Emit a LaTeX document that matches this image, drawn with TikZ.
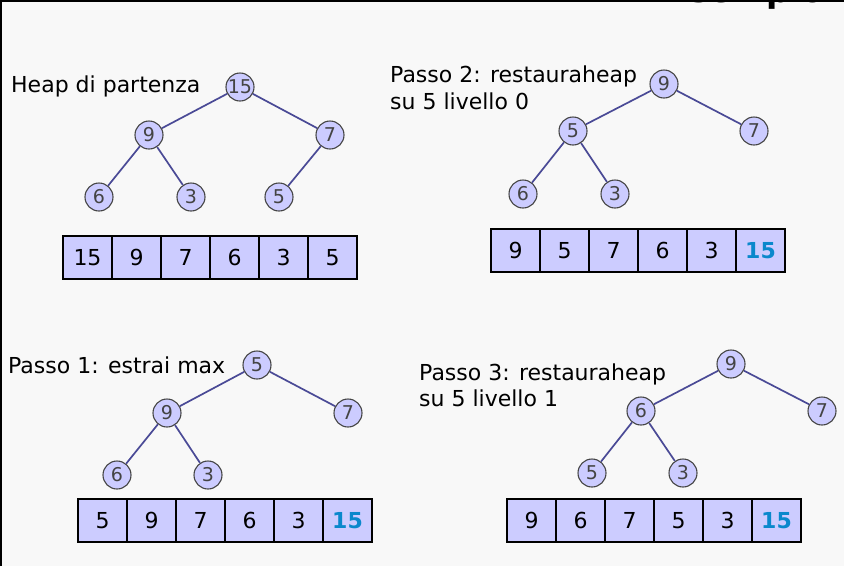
\documentclass[tikz,border=0pt]{standalone}
\usepackage{fontspec}
\setmainfont{DejaVu Sans}
\definecolor{bgcol}{HTML}{F8F8F8}
\definecolor{nodefill}{HTML}{CCCCFF}
\definecolor{nodeborder}{HTML}{454545}
\definecolor{nodetext}{HTML}{444444}
\definecolor{edgecol}{HTML}{4A4A96}
\definecolor{hlblue}{HTML}{0A88CC}
\newcommand\hlv[1]{\textcolor{hlblue}{\bfseries #1}}
\begin{document}
\begin{tikzpicture}[x=1pt,y=-1pt,
  hn/.style={circle, draw=nodeborder, fill=nodefill, line width=1.1pt, minimum size=28pt, inner sep=0pt, font=\fontsize{19}{19}\selectfont, text=nodetext},
  edge/.style={draw=edgecol, line width=1.7pt},
  cell/.style={draw=black, fill=nodefill, line width=1.4pt, minimum width=49pt, minimum height=43pt, inner sep=0pt, font=\fontsize{22}{22}\selectfont},
  lbl/.style={anchor=base west, inner sep=0pt, font=\fontsize{22}{22}\selectfont}]
\useasboundingbox (0,0) rectangle (844,566);
\fill[bgcol] (0,0) rectangle (844,566);
\draw[black, line width=1.5pt] (0.75,566) -- (0.75,0.75) -- (844,0.75);
\begin{scope}
\clip (0,0) rectangle (844,566);
\node[anchor=base west, inner sep=0pt, font=\bfseries\fontsize{33}{33}\selectfont] (title) at (667,2) {Esempio};
\end{scope}

% Tree 1
\node[lbl] (l1) at (11,92.7) {Heap di partenza};
\node[hn] (t1a) at (240,87) {15};
\node[hn] (t1b) at (149,135) {9};
\node[hn] (t1c) at (330,135) {7};
\node[hn] (t1d) at (99,197) {6};
\node[hn] (t1e) at (191,197) {3};
\node[hn] (t1f) at (279,197) {5};
\draw[edge] (t1a) -- (t1b); \draw[edge] (t1a) -- (t1c);
\draw[edge] (t1b) -- (t1d); \draw[edge] (t1b) -- (t1e);
\draw[edge] (t1c) -- (t1f);
\foreach \v [count=\i] in {15,9,7,6,3,5}
  \node[cell] (a1c\i) at ({63+(\i-0.5)*49},257.5) {\v};

% Tree 2
\node[lbl] (l2a) at (390,82) {Passo 2: restauraheap};
\node[lbl] (l2b) at (390,109) {su 5 livello 0};
\node[hn] (t2a) at (664,84) {9};
\node[hn] (t2b) at (573,131) {5};
\node[hn] (t2c) at (754,131) {7};
\node[hn] (t2d) at (523,194) {6};
\node[hn] (t2e) at (615,194) {3};
\draw[edge] (t2a) -- (t2b); \draw[edge] (t2a) -- (t2c);
\draw[edge] (t2b) -- (t2d); \draw[edge] (t2b) -- (t2e);
\foreach \v [count=\i] in {9,5,7,6,3,{\hlv{15}}}
  \node[cell] (a2c\i) at ({491+(\i-0.5)*49},250.5) {\v};

% Tree 3
\node[lbl] (l3) at (8,373.3) {Passo 1: estrai max};
\node[hn] (t3a) at (257,365) {5};
\node[hn] (t3b) at (167,413) {9};
\node[hn] (t3c) at (348,413) {7};
\node[hn] (t3d) at (117,475) {6};
\node[hn] (t3e) at (208,475) {3};
\draw[edge] (t3a) -- (t3b); \draw[edge] (t3a) -- (t3c);
\draw[edge] (t3b) -- (t3d); \draw[edge] (t3b) -- (t3e);
\foreach \v [count=\i] in {5,9,7,6,3,{\hlv{15}}}
  \node[cell] (a3c\i) at ({78+(\i-0.5)*49},520.5) {\v};

% Tree 4
\node[lbl] (l4a) at (419,380) {Passo 3: restauraheap};
\node[lbl] (l4b) at (419,406) {su 5 livello 1};
\node[hn] (t4a) at (731,364) {9};
\node[hn] (t4b) at (641,411) {6};
\node[hn] (t4c) at (822,411) {7};
\node[hn] (t4d) at (592,473) {5};
\node[hn] (t4e) at (683,473) {3};
\draw[edge] (t4a) -- (t4b); \draw[edge] (t4a) -- (t4c);
\draw[edge] (t4b) -- (t4d); \draw[edge] (t4b) -- (t4e);
\foreach \v [count=\i] in {9,6,7,5,3,{\hlv{15}}}
  \node[cell] (a4c\i) at ({507+(\i-0.5)*49},520.5) {\v};
\end{tikzpicture}
\end{document}
